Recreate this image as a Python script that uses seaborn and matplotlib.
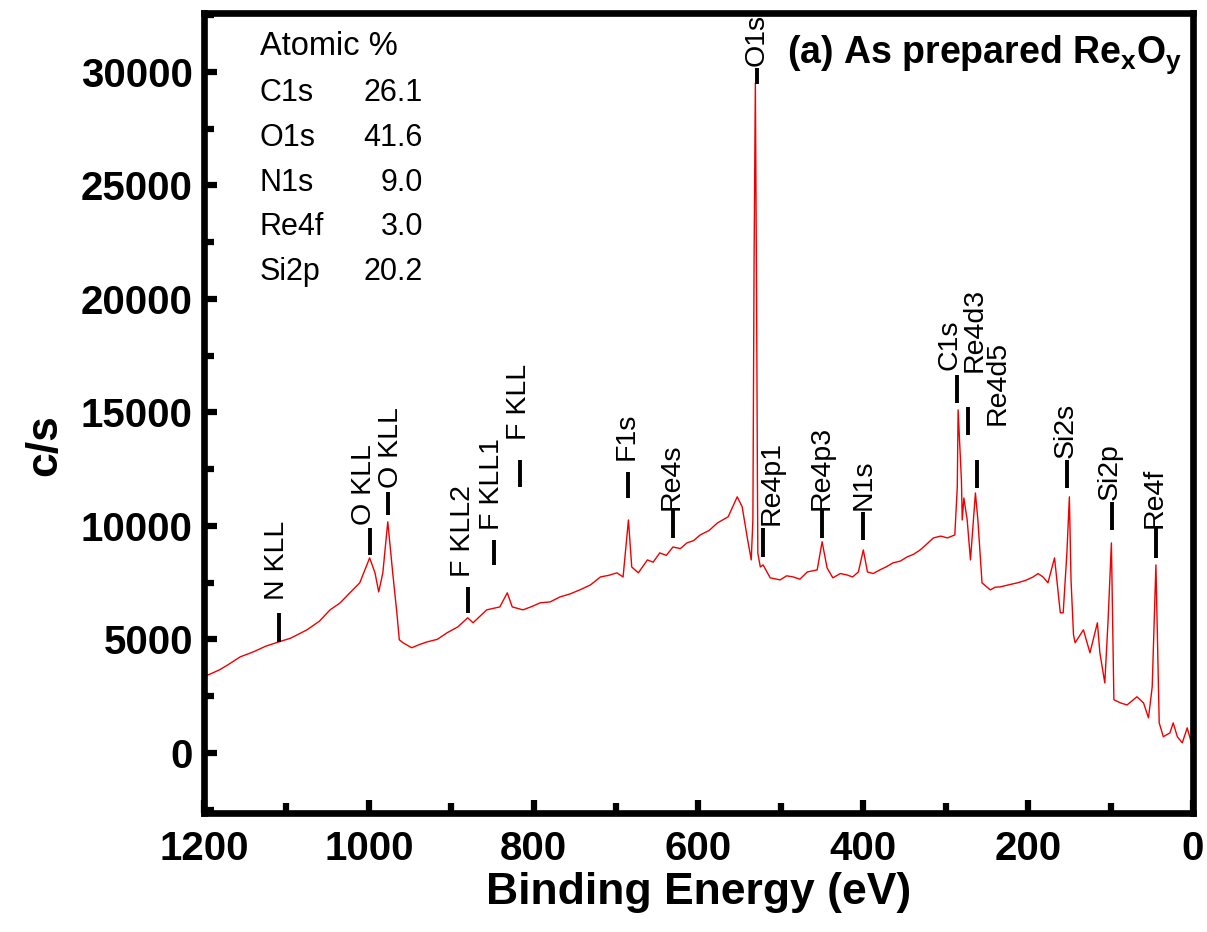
import pandas as pd
import matplotlib
matplotlib.use('Agg')
import matplotlib.pyplot as plt
import seaborn as sns
from matplotlib import font_manager as fm
from matplotlib.ticker import MultipleLocator

# survey spectrum (binding energy in eV, counts/s)
energy = [1200, 1181, 1170, 1156, 1140, 1125, 1109, 1095, 1075, 1060, 1047, 1035, 1023, 1011, 999,
          992.5, 988, 983, 977, 971, 966, 963, 958.5, 948, 938, 929, 917, 905, 892, 880, 873.5, 857,
          841, 832, 826, 813, 802, 792, 780, 768, 756, 744, 731, 719, 709, 699, 691.5, 685, 681, 673,
          662, 655, 647, 639, 631, 622, 614, 606, 598, 587, 577, 564, 553, 547, 541, 536,
          534, 532.5, 531, 529.5, 529, 528.5, 528, 525, 521.6, 513, 501, 493, 485, 477, 468, 456, 450,
          444, 437, 428, 420, 413, 406, 400, 395, 388, 380, 372, 364, 355, 347, 339, 331, 323, 315, 306,
          298, 289, 286, 285, 281, 280, 278, 274, 270, 264, 261, 256, 246, 240, 234, 224, 213, 203, 194,
          188, 182, 176, 168, 161, 157.5, 153, 150, 148, 145, 143, 133, 125, 116, 113, 107, 103, 99, 96,
          88, 80, 68, 60, 54, 49.5, 45, 41, 36, 28, 24, 19, 13, 7, 3, 0]
counts = [3350, 3660, 3900, 4230, 4450, 4700, 4890, 5050, 5420, 5800, 6300, 6600, 7050, 7490, 8590,
          7930, 7090, 7930, 10180, 7930, 6170, 4980, 4850, 4630, 4780, 4890, 5000, 5290, 5550, 5950, 5730, 6300,
          6430, 7050, 6430, 6300, 6450, 6610, 6650, 6870, 7000, 7180, 7400, 7750, 7820, 7930, 7750, 10260, 8190, 7930,
          8500, 8400, 8810, 8700, 9070, 9000, 9250, 9350, 9600, 9800, 10130, 10400, 11280, 10840, 9520, 8500,
          10260, 22000, 29510, 20000, 16430, 12000, 8800, 8190, 8280, 7710, 7620, 7800, 7750, 7650, 7970, 8060, 9300,
          8150, 7710, 7900, 7840, 7750, 7970, 8940, 7970, 7900, 8060, 8200, 8370, 8450, 8630, 8750, 8940, 9200, 9470,
          9550, 9470, 9600, 11720, 15110, 12030, 10260, 11230, 10260, 8500, 11450, 10260, 7490, 7180, 7300, 7310,
          7400, 7490, 7600, 7750, 7900, 7750, 7490, 8590, 6170, 6170, 8810, 11280, 7620, 5200, 4850, 5420, 4410,
          5730, 4410, 3080, 5860, 9250, 2340, 2200, 2110, 2470, 2200, 1540, 2910, 8280, 1320, 710, 880, 1320,
          710, 440, 1100, 570, 130]

# peak assignments
peak_labels = ['N KLL', 'O KLL', 'O KLL', 'F KLL2', 'F KLL1', 'F KLL', 'F1s', 'Re4s', 'O1s',
               'Re4p1', 'Re4p3', 'N1s', 'C1s', 'Re4d3', 'Re4d5', 'Si2s', 'Si2p', 'Re4f']
mark_x = [1109, 999, 977, 880, 848, 816.5, 685.4, 631, 529, 521.6, 450, 400, 286, 272.8, 261.9,
          152.7, 98, 44.7]
mark_lo = [4890, 8720, 10480, 6170, 8280, 11720, 11230, 9470, 29470, 8630, 9470, 9380, 15420, 14010,
           11670, 11670, 9820, 8590]
mark_hi = [6170, 9910, 11500, 7310, 9380, 12910, 12380, 10700, 30170, 9910, 10700, 10620, 16650, 15240,
           12910, 12910, 11060, 9910]
text_x = [1111, 1006, 973, 886, 850, 818, 687, 632, 530, 511, 451, 400, 296, 265.5, 237.6, 155, 100.5, 47]
text_y = [6740, 10040, 11670, 7750, 9820, 13790, 12910, 10700, 30260, 10040, 10700, 10700, 16870, 16780,
          14450, 13000, 11150, 9910]

atomic_names = ['C1s', 'O1s', 'N1s', 'Re4f', 'Si2p']
atomic_values = ['26.1', '41.6', '9.0', '3.0', '20.2']

df = pd.DataFrame({'energy': energy, 'counts': counts})

sns.set_style('white')
plt.rcParams['font.family'] = ['Liberation Sans', 'DejaVu Sans']
plt.rcParams['mathtext.fontset'] = 'custom'
plt.rcParams['mathtext.rm'] = 'Liberation Sans'
plt.rcParams['mathtext.bf'] = 'Liberation Sans:bold'
plt.rcParams['text.color'] = 'black'
plt.rcParams['axes.labelcolor'] = 'black'
plt.rcParams['xtick.color'] = 'black'
plt.rcParams['ytick.color'] = 'black'

names = {f.name for f in fm.fontManager.ttflist}
if 'Liberation Sans Narrow' in names:
    narrow = 'Liberation Sans Narrow'
    tick_size, lab_size = 34, 37
else:
    narrow = 'Liberation Sans'
    tick_size, lab_size = 29, 32

fig = plt.figure(figsize=(12.07, 9.32), dpi=100)
ax = fig.add_axes([0.169, 0.1277, 0.8194, 0.8584])

sns.lineplot(data=df, x='energy', y='counts', color='#ee0000', lw=1.0, ax=ax)

ax.set_xlim(1200, 0)
ax.set_ylim(-2650, 32600)
ax.xaxis.set_major_locator(MultipleLocator(200))
ax.xaxis.set_minor_locator(MultipleLocator(100))
ax.yaxis.set_major_locator(MultipleLocator(5000))
ax.yaxis.set_minor_locator(MultipleLocator(2500))

for s in ax.spines.values():
    s.set_linewidth(4.8)
    s.set_color('black')
ax.tick_params(which='both', direction='in', width=4.5, color='black',
               bottom=True, left=True, top=False, right=False)
ax.tick_params(which='major', length=9.5)
ax.tick_params(which='minor', length=7)
ax.tick_params(axis='x', which='major', pad=12)
ax.tick_params(axis='y', which='major', pad=8)
for lab in ax.get_xticklabels() + ax.get_yticklabels():
    lab.set_fontfamily([narrow, 'Liberation Sans', 'DejaVu Sans'])
    lab.set_fontweight('bold')
    lab.set_fontsize(tick_size)

ax.set_xlabel('Binding Energy (eV)', fontsize=lab_size, fontweight='bold',
              family=[narrow, 'Liberation Sans', 'DejaVu Sans'])
ax.set_ylabel('c/s', fontsize=lab_size, fontweight='bold',
              family=[narrow, 'Liberation Sans', 'DejaVu Sans'])
ax.xaxis.set_label_coords(0.5, -0.074)
ax.yaxis.set_label_coords(-0.1405, 0.46)

# peak markers and labels
ax.vlines(mark_x, mark_lo, mark_hi, color='black', lw=2.8)
for lab, tx, ty in zip(peak_labels, text_x, text_y):
    ax.text(tx, ty, lab, rotation=90, ha='center', va='bottom', fontsize=20.5, color='black')

# composition table
ax.text(0.0566, 0.9575, 'Atomic %', transform=ax.transAxes, va='center', fontsize=23.5)
for i, (n, v) in enumerate(zip(atomic_names, atomic_values)):
    y = 0.9 - i * 0.056
    ax.text(0.0566, y, n, transform=ax.transAxes, va='center', fontsize=22)
    ax.text(0.2214, y, v, transform=ax.transAxes, va='center', ha='right', fontsize=22)

ax.text(0.5895, 0.9375, r'(a) As prepared Re$_\mathbf{x}$O$_\mathbf{y}$', transform=ax.transAxes,
        ha='left', va='baseline', fontsize=27, fontweight='bold')

fig.savefig('out.png', dpi=100)
